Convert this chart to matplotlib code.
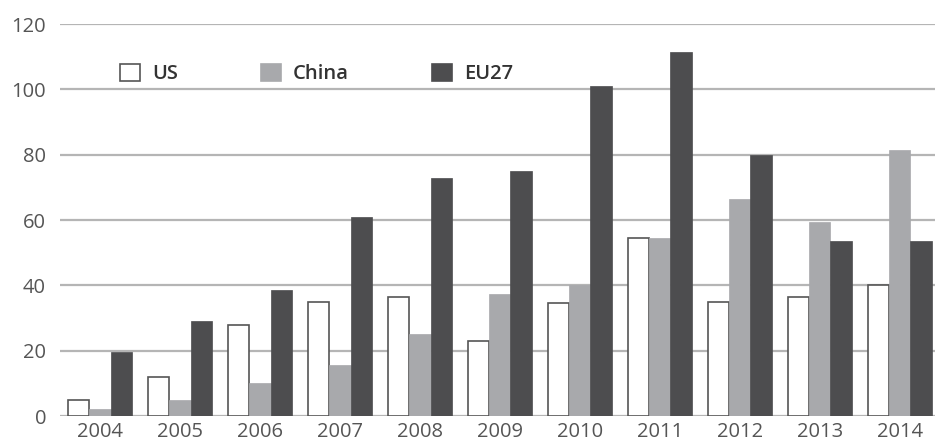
import numpy as np
import matplotlib.pyplot as plt

# data
years = ['2004', '2005', '2006', '2007', '2008', '2009', '2010', '2011', '2012', '2013', '2014']
us = [5, 12, 28, 35, 36.5, 23, 34.5, 54.5, 35, 36.5, 40]
china = [2, 5, 10, 15.5, 25, 37.5, 40, 54.5, 66.5, 59.5, 81.5]
eu27 = [19.5, 29, 38.5, 61, 73, 75, 101, 111.5, 80, 53.5, 53.5]

plt.rcParams['font.family'] = ['Open Sans', 'DejaVu Sans']

fig = plt.figure(figsize=(9.35, 4.46), dpi=100)
ax = fig.add_axes([60 / 935, 30 / 446, 875 / 935, 392 / 446])

x = np.arange(len(years))
w = 0.265
ax.bar(x - w, us, w, color='white', edgecolor='#555555', linewidth=1.2, label='US', zorder=3)
ax.bar(x, china, w, color='#a8a9ac', edgecolor='#a8a9ac', linewidth=0.5, label='China', zorder=3)
ax.bar(x + w, eu27, w, color='#4d4d4f', edgecolor='#4d4d4f', linewidth=0.5, label='EU27', zorder=3)

ax.set_xlim(-0.5, 10.44)
ax.set_ylim(0, 120)
ax.set_yticks(np.arange(0, 121, 20))
ax.set_xticks(x)
ax.set_xticklabels(years)
ax.yaxis.grid(True, color='#b5b5b5', linewidth=1.6, zorder=0)
ax.set_axisbelow(True)
for s in ax.spines.values():
    s.set_visible(False)
ax.tick_params(length=0, labelsize=14.5, labelcolor='#555555')
ax.tick_params(axis='y', pad=10)
ax.tick_params(axis='x', pad=4)

leg = fig.legend(loc='center left', bbox_to_anchor=(102 / 935, 1 - 74 / 446), ncol=3,
                 frameon=False, handlelength=1.0, handleheight=0.95, handletextpad=0.6,
                 columnspacing=4.1, prop={'size': 14.5, 'weight': 'semibold'})
for t in leg.get_texts():
    t.set_color('#333333')
for p in leg.get_patches():
    p.set_linewidth(1.2)

fig.savefig('out.png', dpi=100, facecolor='white')
